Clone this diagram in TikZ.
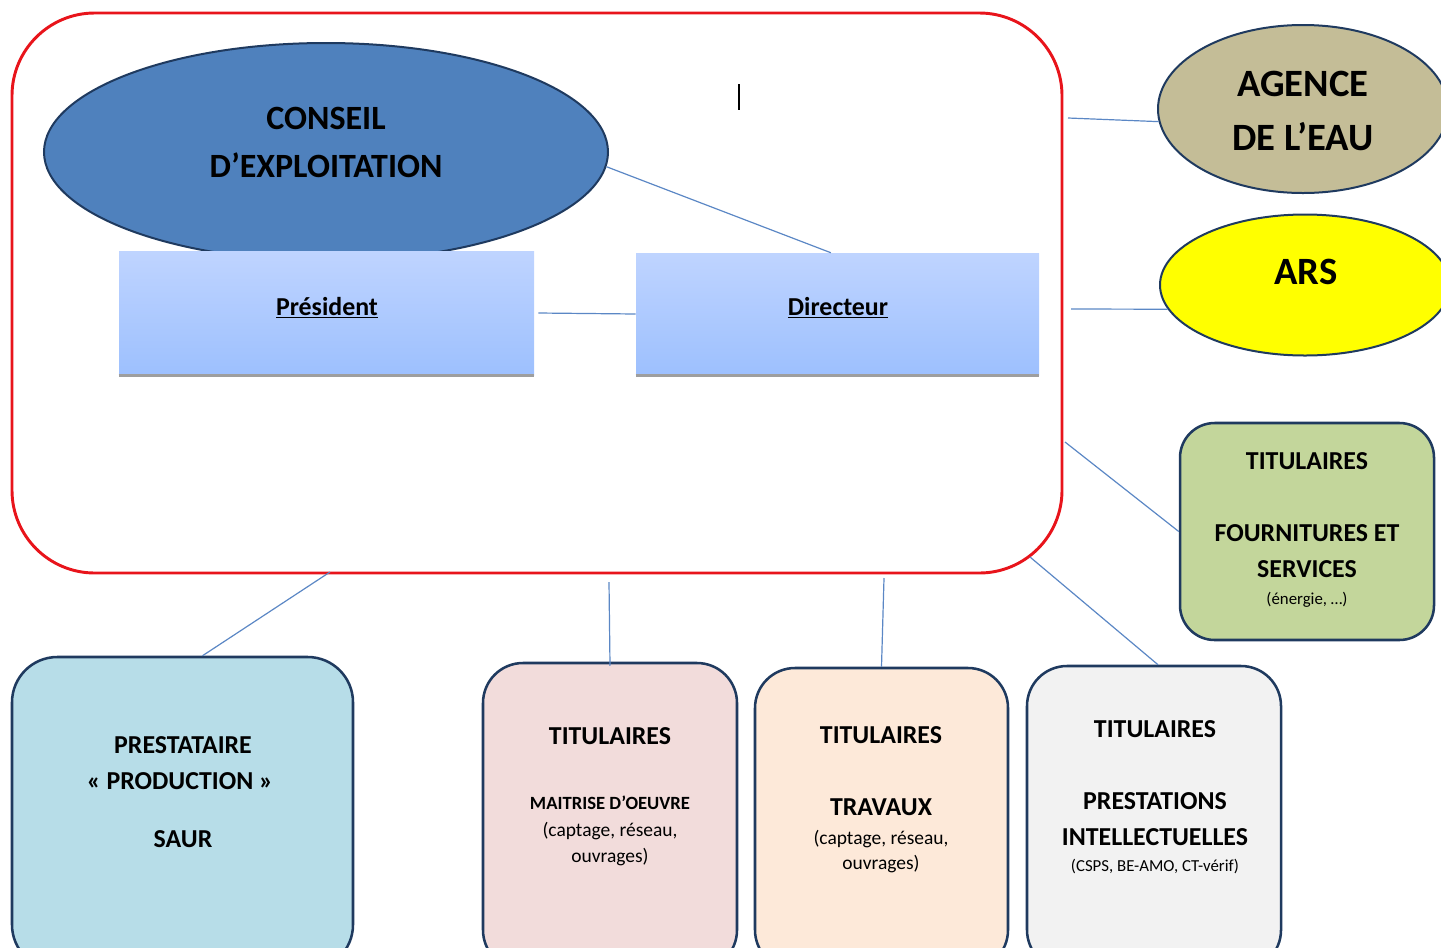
\documentclass[tikz,border=0pt]{standalone}
\usepackage{fontspec}
\setmainfont{Carlito}
\usetikzlibrary{shapes.geometric}
\definecolor{redline}{HTML}{E8141B}
\definecolor{conn}{HTML}{5B87C5}
\definecolor{conseilfill}{HTML}{4F81BD}
\definecolor{navy}{HTML}{1F3A5F}
\definecolor{boxtop}{HTML}{BFD4FF}
\definecolor{boxbot}{HTML}{9DC0FE}
\definecolor{agencefill}{HTML}{C4BD97}
\definecolor{arsfill}{HTML}{FFFF00}
\definecolor{greenfill}{HTML}{C3D69B}
\definecolor{bluefill}{HTML}{B7DDE8}
\definecolor{pinkfill}{HTML}{F2DCDB}
\definecolor{peachfill}{HTML}{FDE9D9}
\definecolor{grayfill}{HTML}{F2F2F2}
\tikzset{
  conline/.style={draw=conn, line width=0.9pt},
  ovalnode/.style={ellipse, draw=navy, line width=1.5pt, inner sep=0pt},
  rbox/.style={rectangle, rounded corners=30pt, draw=navy, line width=1.9pt, inner sep=0pt},
  gradbox/.style={rectangle, inner sep=0pt, top color=boxtop, bottom color=boxbot, draw=none},
  txt/.style={anchor=base, inner sep=0pt, text=black},
  fbig/.style={font=\fontsize{25.5}{30}\selectfont\bfseries},
  fhuge/.style={font=\fontsize{29}{34}\selectfont\bfseries},
  fmid/.style={font=\fontsize{19.4}{23}\selectfont\bfseries},
  fsmallb/.style={font=\fontsize{14}{17}\selectfont\bfseries},
  fsmall/.style={font=\fontsize{14.6}{17}\selectfont},
  ftiny/.style={font=\fontsize{12.6}{15}\selectfont},
}
\begin{document}
\begin{tikzpicture}[x=0.75pt,y=-0.75pt]
\useasboundingbox (0,0) rectangle (1441,947);
\clip (0,0) rectangle (1441,947);

% free ends of connectors (on / near the red frame)
\coordinate (r1) at (1068,118);
\coordinate (r2) at (1071,309);
\coordinate (r3) at (1065,442);
\coordinate (r4) at (330,572);
\coordinate (r5) at (609,582);
\coordinate (r6) at (884,578);
\coordinate (r7) at (1030,557);

% main red frame
\node[rectangle, rounded corners=62pt, draw=redline, line width=2.2pt,
      minimum width=787.5pt, minimum height=420pt, inner sep=0pt] (red) at (537,293) {};

% conseil ellipse
\node[ovalnode, fill=conseilfill, minimum width=423pt, minimum height=163.5pt] (conseil) at (326,152) {};

% president / directeur boxes
\node[gradbox, minimum width=311.25pt, minimum height=93pt] (president) at (326.5,313) {};
\node[gradbox, minimum width=302.25pt, minimum height=91.5pt] (directeur) at (837.5,314) {};
\draw[draw=black!38, line width=2pt] (president.south west) -- (president.south east);
\draw[draw=black!38, line width=2pt] (directeur.south west) -- (directeur.south east);

% connectors
\draw[conline] (conseil.-3) -- ([xshift=-5pt]directeur.north);
\draw[conline] ([xshift=3pt]president.east) -- (directeur.west);

% right ellipses
\node[ovalnode, fill=agencefill, minimum width=217.5pt, minimum height=126pt] (agence) at (1303,109) {};
\node[ovalnode, fill=arsfill, minimum width=217.5pt, minimum height=105.75pt] (ars) at (1305,285) {};
\draw[conline] (r1) -- (agence.185);
\draw[conline] (r2) -- (ars.190);

% green box
\node[rbox, rounded corners=26pt, fill=greenfill, minimum width=190.5pt, minimum height=162.75pt] (green) at (1307,531.5) {};
\draw[conline] (r3) -- (green.west);

% bottom boxes
\node[rbox, rounded corners=34pt, fill=bluefill, minimum width=255.75pt, minimum height=234.75pt] (blue) at (182.5,813.5) {};
\node[rbox, fill=pinkfill, minimum width=190.5pt, minimum height=230.25pt] (pink) at (610,816.5) {};
\node[rbox, fill=peachfill, minimum width=189.75pt, minimum height=226.5pt] (peach) at (881.5,819) {};
\node[rbox, fill=grayfill, minimum width=190.5pt, minimum height=228pt] (gray) at (1154,818) {};

% bottom connectors
\draw[conline] (r4) -- ([xshift=15pt]blue.north);
\draw[conline] (r5) -- ([yshift=-3pt]pink.north);
\draw[conline] (r6) -- (peach.north);
\draw[conline] (r7) -- ([xshift=3pt]gray.north);

% texts
\node[txt, fbig] (t1) at (326,129) {CONSEIL};
\node[txt, fbig] (t2) at (326,177) {D’EXPLOITATION};
\node[txt, fmid] (t3) at (327,315) {\underline{Président}};
\node[txt, fmid] (t4) at (838,315) {\underline{Directeur}};
\node[txt, fhuge] (t5) at (1303,96) {AGENCE};
\node[txt, fhuge] (t6) at (1303,150) {DE L’EAU};
\node[txt, fhuge] (t7) at (1306,284) {ARS};

\node[txt, fmid] (g1) at (1307,469) {TITULAIRES};
\node[txt, fmid] (g2) at (1307,541) {FOURNITURES ET};
\node[txt, fmid] (g3) at (1307,577) {SERVICES};
\node[txt, ftiny] (g4) at (1307,604) {(énergie, …)};

\node[txt, fmid] (b1) at (183,753) {PRESTATAIRE};
\node[txt, fmid] (b2) at (180,789) {« PRODUCTION »};
\node[txt, fmid] (b3) at (183,847) {SAUR};

\node[txt, fmid] (p1) at (610,744) {TITULAIRES};
\node[txt, fsmallb] (p2) at (610,809) {MAITRISE D’OEUVRE};
\node[txt, fsmall] (p3) at (610,836) {(captage, réseau,};
\node[txt, fsmall] (p4) at (610,862) {ouvrages)};

\node[txt, fmid] (q1) at (881,743) {TITULAIRES};
\node[txt, fmid] (q2) at (881,815) {TRAVAUX};
\node[txt, fsmall] (q3) at (881,844) {(captage, réseau,};
\node[txt, fsmall] (q4) at (881,869) {ouvrages)};

\node[txt, fmid] (s1) at (1155,737) {TITULAIRES};
\node[txt, fmid] (s2) at (1155,809) {PRESTATIONS};
\node[txt, fmid] (s3) at (1155,845) {INTELLECTUELLES};
\node[txt, ftiny] (s4) at (1155,871) {(CSPS, BE-AMO, CT-vérif)};

% text cursor mark
\coordinate (cur1) at (739,84);
\coordinate (cur2) at (739,110);
\draw[black, line width=1.2pt] (cur1) -- (cur2);
\end{tikzpicture}
\end{document}
